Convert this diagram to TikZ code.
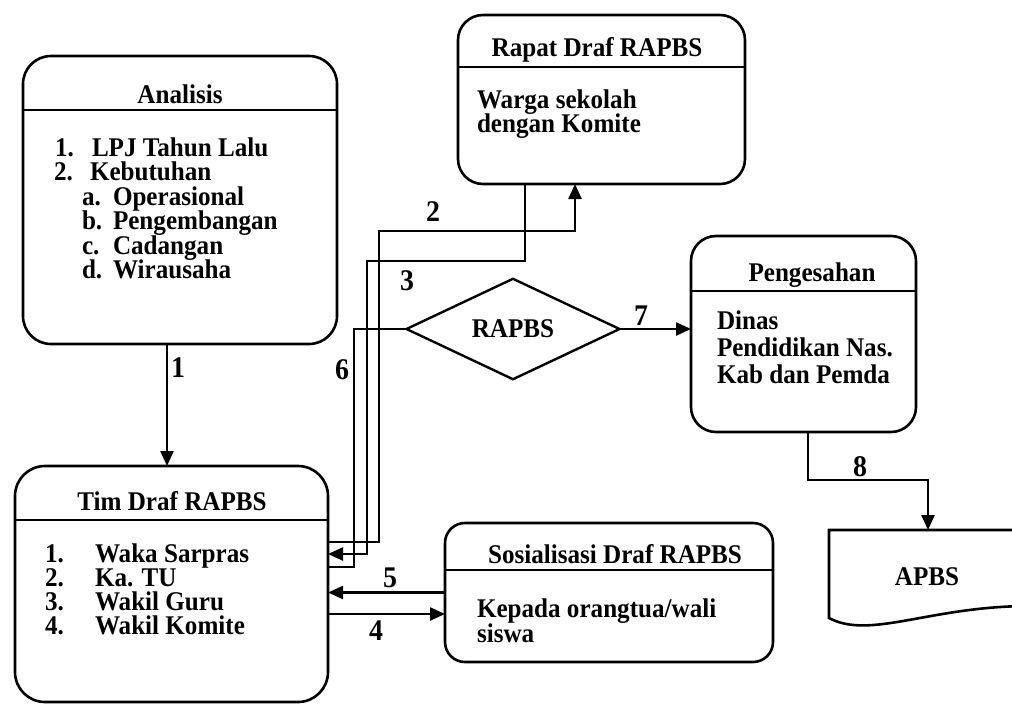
\documentclass[tikz,border=0pt]{standalone}
\usepackage{fontspec}
\setmainfont{Liberation Serif}[UprightFont=* Bold, FakeStretch=0.93]
\usetikzlibrary{arrows.meta,shapes.geometric}
\begin{document}
\begin{tikzpicture}[x=1pt,y=-1pt,
  every node/.style={inner sep=0pt, outer sep=0pt},
  box/.style={draw, line width=2.6pt, rectangle, rounded corners=#1},
  box/.default=28pt,
  hline/.style={line width=2.4pt},
  conn/.style={line width=2.4pt},
  arr/.style={conn,-{Triangle[length=15pt,width=13pt]}},
  txt/.style={font=\fontsize{27}{27}\selectfont, anchor=base west, text height=17.5pt, text depth=5pt},
  ttl/.style={font=\fontsize{27}{27}\selectfont, anchor=base, text height=17.5pt, text depth=5pt},
  lbl/.style={font=\fontsize{30}{30}\selectfont},
]
\useasboundingbox (0,0) rectangle (1012,705);
\clip (0,0) rectangle (1012,705);

% ---------------- boxes ----------------
\node[box=28pt, minimum width=314pt, minimum height=288pt] (ana) at (180,200) {};
\draw[hline] (ana.west |- 0,110) -- (ana.east |- 0,110);
\node[ttl] (anat) at (180,103) {Analisis};
\node[txt] (an1) at (55,156) {1.};  \node[txt] (at1) at (92,156) {LPJ Tahun Lalu};
\node[txt] (an2) at (54,180.5) {2.};  \node[txt] (at2) at (90,180.5) {Kebutuhan};
\node[txt] (ana1) at (82,205) {a.}; \node[txt] (ata) at (113,205) {Operasional};
\node[txt] (anb) at (82,229.5) {b.};  \node[txt] (atb) at (113,229.5) {Pengembangan};
\node[txt] (anc) at (82,254) {c.};  \node[txt] (atc) at (113,254) {Cadangan};
\node[txt] (and) at (82,278.5) {d.};  \node[txt] (atd) at (113,278.5) {Wirausaha};

\node[box=30pt, minimum width=313pt, minimum height=236pt] (tim) at (171.5,584) {};
\draw[hline] (tim.west |- 0,520) -- (tim.east |- 0,520);
\node[ttl] (timt) at (172,510) {Tim Draf RAPBS};
\node[txt] (tn1) at (45,562) {1.}; \node[txt] (tt1) at (95,562) {Waka Sarpras};
\node[txt] (tn2) at (45,586) {2.}; \node[txt] (tt2) at (95,586) {Ka. TU};
\node[txt] (tn3) at (45,610) {3.}; \node[txt] (tt3) at (95,610) {Wakil Guru};
\node[txt] (tn4) at (45,634) {4.}; \node[txt] (tt4) at (95,634) {Wakil Komite};

\node[box=25pt, minimum width=287pt, minimum height=169pt] (rapat) at (601.5,99.5) {};
\draw[hline] (rapat.west |- 0,67) -- (rapat.east |- 0,67);
\node[ttl] (rapatt) at (597,56) {Rapat Draf RAPBS};
\node[txt] (r1) at (477,108) {Warga sekolah};
\node[txt] (r2) at (477,132) {dengan Komite};

\node[box=25pt, minimum width=225pt, minimum height=196pt] (peng) at (803.5,334) {};
\draw[hline] (peng.west |- 0,291) -- (peng.east |- 0,291);
\node[ttl] (pengt) at (812,281) {Pengesahan};
\node[txt] (p1) at (717,329) {Dinas};
\node[txt] (p2) at (717,356) {Pendidikan Nas.};
\node[txt] (p3) at (717,383) {Kab dan Pemda};

\node[box=20pt, minimum width=328pt, minimum height=139pt] (sos) at (609,592.5) {};
\draw[hline] (sos.west |- 0,570) -- (sos.east |- 0,570);
\node[ttl] (sost) at (615,563) {Sosialisasi Draf RAPBS};
\node[txt] (s1) at (477,617) {Kepada orangtua/wali};
\node[txt] (s2) at (477,642) {siswa};

\node[diamond, draw, line width=2.4pt, minimum width=213pt, minimum height=88pt,
      font=\fontsize{27}{27}\selectfont] (dia) at (513,329) {RAPBS};

% APBS document shape
\node[minimum width=200pt, minimum height=90pt, anchor=north west] (apbs) at (829,530) {};
\draw[line width=2.6pt] (apbs.north east) -- (apbs.north west) -- (829,618)
   .. controls (870,640) and (930,606) .. (1030,606);
\node[font=\fontsize{27}{27}\selectfont] (apbst) at (927,577) {APBS};

% ---------------- connectors ----------------
\coordinate (b3) at (367,261);
\coordinate (b2) at (379,231);
\coordinate (b6) at (354,329);
\coordinate (b8) at (928,480);
\coordinate (s4) at ([yshift=-21.5pt]sos.west);
\coordinate (p8) at ([xshift=4.5pt]peng.south);

\draw[arr] ([xshift=-13pt]ana.south) -- ([xshift=-13pt]ana.south |- tim.north);
\draw[arr] ([yshift=42pt]tim.east) -| (b2) -| ([xshift=-26.5pt]rapat.south);
\draw[arr] ([xshift=-76.5pt]rapat.south) |- (b3) |- ([yshift=30pt]tim.east);
\draw[conn] (dia.west) -- (b6) |- ([yshift=17pt]tim.east);
\draw[arr] (sos.west) -- (sos.west -| tim.east);
\draw[arr] (s4 -| tim.east) -- (s4);
\draw[arr] (dia.east) -- (dia.east -| peng.west);
\draw[arr] (p8) |- (b8) -- (b8 |- apbs.north);

% ---------------- labels ----------------
\node[lbl] (l1) at (178,368) {1};
\node[lbl] (l2) at (433,212) {2};
\node[lbl] (l3) at (407,281) {3};
\node[lbl] (l6) at (342,370) {6};
\node[lbl] (l7) at (641,316) {7};
\node[lbl] (l8) at (860,467) {8};
\node[lbl] (l5) at (390,578) {5};
\node[lbl] (l4) at (376,631) {4};
\end{tikzpicture}
\end{document}
